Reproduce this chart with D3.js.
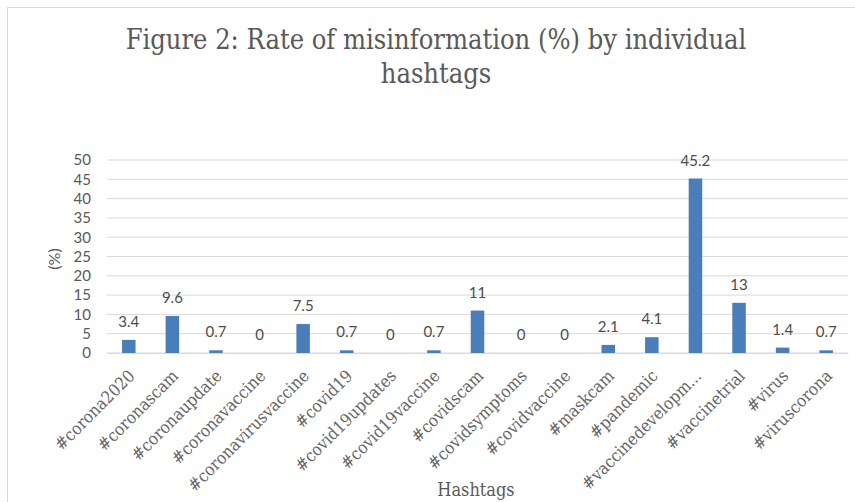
<!DOCTYPE html>
<html><head><meta charset="utf-8">
<script src="https://cdn.jsdelivr.net/npm/d3@7"></script>
<style>
body{margin:0;background:#fff;}
svg{display:block;}
</style></head>
<body>
<svg id="chart" width="855" height="502"></svg>
<script>
const categories = ["#corona2020","#coronascam","#coronaupdate","#coronavaccine","#coronavirusvaccine","#covid19","#covid19updates","#covid19vaccine","#covidscam","#covidsymptoms","#covidvaccine","#maskcam","#pandemic","#vaccinedevelopm...","#vaccinetrial","#virus","#viruscorona"];
const values = [3.4,9.6,0.7,0,7.5,0.7,0,0.7,11,0,0,2.1,4.1,45.2,13,1.4,0.7];
const yTicks = [0,5,10,15,20,25,30,35,40,45,50];
const titleLines = ["Figure 2: Rate of misinformation (%) by individual","hashtags"];
const yTitle = "(%)";
const xTitle = "Hashtags";

const svg = d3.select("#chart");
const serif = "'DejaVu Serif Condensed','Liberation Serif',serif";
const sans = "Lato,'Open Sans',sans-serif";
const grey = "#595959";

svg.append("rect").attr("x",7.5).attr("y",7.5).attr("width",860).attr("height",520)
  .attr("fill","#fff").attr("stroke","#d9d9d9").attr("stroke-width",1);

const x = d3.scaleBand().domain(categories).range([107,848]).paddingInner(0.69).paddingOuter(0.345);
const y = d3.scaleLinear().domain([0,50]).range([353,160]);

// gridlines
svg.append("g").selectAll("line").data(yTicks).join("line")
  .attr("x1",107).attr("x2",848).attr("y1",d=>y(d)).attr("y2",d=>y(d))
  .attr("stroke","#d9d9d9").attr("stroke-width",1);

// y axis labels
const yAxis = d3.axisLeft(y).tickValues(yTicks).tickSize(0).tickPadding(0);
const gy = svg.append("g").attr("transform","translate(91,0)").call(yAxis);
gy.select(".domain").remove();
gy.selectAll("text").attr("font-family",sans).attr("font-size",15).attr("fill",grey);

// bars
svg.append("g").selectAll("rect").data(values).join("rect")
  .attr("x",(d,i)=>x(categories[i])).attr("width",x.bandwidth())
  .attr("y",d=>y(d)).attr("height",d=>y(0)-y(d)).attr("fill","#4a7ebb");

// data labels
svg.append("g").selectAll("text").data(values).join("text")
  .attr("x",(d,i)=>x(categories[i])+x.bandwidth()/2).attr("y",d=>y(d)-13)
  .attr("text-anchor","middle").attr("font-family",sans).attr("font-size",15).attr("fill","#4d4d4d")
  .text(d=>d);

// x axis
const xAxis = d3.axisBottom(x).tickSize(0).tickPadding(0);
const gx = svg.append("g").attr("transform",`translate(0,${y(0)})`).call(xAxis);
gx.select(".domain").attr("stroke","#d9d9d9");
gx.selectAll("text").attr("font-family",serif).attr("font-size",17).attr("fill","#666")
  .attr("text-anchor","end").attr("dy",null).attr("y",0)
  .attr("transform","translate(7,24) rotate(-45)");

// titles
svg.append("text").attr("x",436).attr("y",49).attr("text-anchor","middle")
  .attr("font-family",serif).attr("font-size",27).attr("fill",grey).text(titleLines[0]);
svg.append("text").attr("x",436).attr("y",83).attr("text-anchor","middle")
  .attr("font-family",serif).attr("font-size",27).attr("fill",grey).text(titleLines[1]);

svg.append("text").attr("transform","translate(60,259) rotate(-90)").attr("text-anchor","middle")
  .attr("font-family",sans).attr("font-size",16).attr("fill",grey).text(yTitle);
svg.append("text").attr("x",476).attr("y",496).attr("text-anchor","middle")
  .attr("font-family",serif).attr("font-size",18).attr("fill",grey).text(xTitle);
</script>
</body></html>
